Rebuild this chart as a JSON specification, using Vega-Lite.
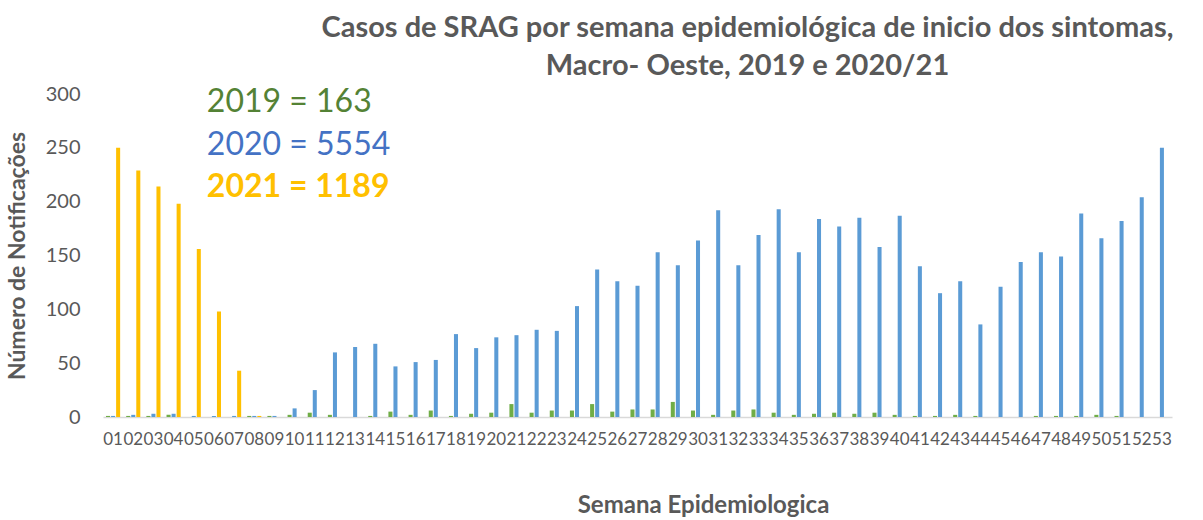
{
  "$schema": "https://vega.github.io/schema/vega-lite/v6.json",
  "autosize": "none",
  "width": 1069,
  "height": 323,
  "padding": {"left": 103, "top": 94, "right": 31, "bottom": 103},
  "background": "white",
  "config": {
    "view": {"stroke": null},
    "font": "Lato"
  },
  "title": {
    "text": ["Casos de SRAG por semana epidemiológica de inicio dos sintomas,", "Macro- Oeste, 2019 e 2020/21"],
    "font": "Lato",
    "fontSize": 29,
    "fontWeight": "bold",
    "color": "#595959",
    "anchor": "middle",
    "dx": 110,
    "offset": 3,
    "lineHeight": 38
  },
  "datasets": {
    "notes": [
      {"year": "2019", "label": "2019 = 163", "week": "06", "pos": 293},
      {"year": "2020", "label": "2020 = 5554", "week": "06", "pos": 252.5},
      {"year": "2021", "label": "2021 = 1189", "week": "06", "pos": 213.5}
    ]
  },
  "data": {
    "values": [
      {"week":"01","year":"2019","n":1},{"week":"01","year":"2020","n":1},{"week":"01","year":"2021","n":250},
      {"week":"02","year":"2019","n":1},{"week":"02","year":"2020","n":2},{"week":"02","year":"2021","n":229},
      {"week":"03","year":"2019","n":1},{"week":"03","year":"2020","n":3},{"week":"03","year":"2021","n":214},
      {"week":"04","year":"2019","n":2},{"week":"04","year":"2020","n":3},{"week":"04","year":"2021","n":198},
      {"week":"05","year":"2019","n":0},{"week":"05","year":"2020","n":1},{"week":"05","year":"2021","n":156},
      {"week":"06","year":"2019","n":0},{"week":"06","year":"2020","n":1},{"week":"06","year":"2021","n":98},
      {"week":"07","year":"2019","n":0},{"week":"07","year":"2020","n":1},{"week":"07","year":"2021","n":43},
      {"week":"08","year":"2019","n":1},{"week":"08","year":"2020","n":1},{"week":"08","year":"2021","n":1},
      {"week":"09","year":"2019","n":1},{"week":"09","year":"2020","n":1},
      {"week":"10","year":"2019","n":2},{"week":"10","year":"2020","n":8},
      {"week":"11","year":"2019","n":4},{"week":"11","year":"2020","n":25},
      {"week":"12","year":"2019","n":2},{"week":"12","year":"2020","n":60},
      {"week":"13","year":"2019","n":0},{"week":"13","year":"2020","n":65},
      {"week":"14","year":"2019","n":1},{"week":"14","year":"2020","n":68},
      {"week":"15","year":"2019","n":5},{"week":"15","year":"2020","n":47},
      {"week":"16","year":"2019","n":2},{"week":"16","year":"2020","n":51},
      {"week":"17","year":"2019","n":6},{"week":"17","year":"2020","n":53},
      {"week":"18","year":"2019","n":1},{"week":"18","year":"2020","n":77},
      {"week":"19","year":"2019","n":3},{"week":"19","year":"2020","n":64},
      {"week":"20","year":"2019","n":4},{"week":"20","year":"2020","n":74},
      {"week":"21","year":"2019","n":12},{"week":"21","year":"2020","n":76},
      {"week":"22","year":"2019","n":4},{"week":"22","year":"2020","n":81},
      {"week":"23","year":"2019","n":6},{"week":"23","year":"2020","n":80},
      {"week":"24","year":"2019","n":6},{"week":"24","year":"2020","n":103},
      {"week":"25","year":"2019","n":12},{"week":"25","year":"2020","n":137},
      {"week":"26","year":"2019","n":5},{"week":"26","year":"2020","n":126},
      {"week":"27","year":"2019","n":7},{"week":"27","year":"2020","n":122},
      {"week":"28","year":"2019","n":7},{"week":"28","year":"2020","n":153},
      {"week":"29","year":"2019","n":14},{"week":"29","year":"2020","n":141},
      {"week":"30","year":"2019","n":6},{"week":"30","year":"2020","n":164},
      {"week":"31","year":"2019","n":2},{"week":"31","year":"2020","n":192},
      {"week":"32","year":"2019","n":6},{"week":"32","year":"2020","n":141},
      {"week":"33","year":"2019","n":7},{"week":"33","year":"2020","n":169},
      {"week":"34","year":"2019","n":4},{"week":"34","year":"2020","n":193},
      {"week":"35","year":"2019","n":2},{"week":"35","year":"2020","n":153},
      {"week":"36","year":"2019","n":3},{"week":"36","year":"2020","n":184},
      {"week":"37","year":"2019","n":4},{"week":"37","year":"2020","n":177},
      {"week":"38","year":"2019","n":3},{"week":"38","year":"2020","n":185},
      {"week":"39","year":"2019","n":4},{"week":"39","year":"2020","n":158},
      {"week":"40","year":"2019","n":2},{"week":"40","year":"2020","n":187},
      {"week":"41","year":"2019","n":1},{"week":"41","year":"2020","n":140},
      {"week":"42","year":"2019","n":1},{"week":"42","year":"2020","n":115},
      {"week":"43","year":"2019","n":2},{"week":"43","year":"2020","n":126},
      {"week":"44","year":"2019","n":1},{"week":"44","year":"2020","n":86},
      {"week":"45","year":"2019","n":0},{"week":"45","year":"2020","n":121},
      {"week":"46","year":"2019","n":0},{"week":"46","year":"2020","n":144},
      {"week":"47","year":"2019","n":1},{"week":"47","year":"2020","n":153},
      {"week":"48","year":"2019","n":1},{"week":"48","year":"2020","n":149},
      {"week":"49","year":"2019","n":1},{"week":"49","year":"2020","n":189},
      {"week":"50","year":"2019","n":2},{"week":"50","year":"2020","n":166},
      {"week":"51","year":"2019","n":1},{"week":"51","year":"2020","n":182},
      {"week":"52","year":"2019","n":0},{"week":"52","year":"2020","n":204},
      {"week":"53","year":"2019","n":0},{"week":"53","year":"2020","n":250}
    ]
  },
  "layer": [
    {
      "mark": {"type": "bar"},
      "encoding": {
        "x": {
          "field": "week", "type": "ordinal", "sort": null,
          "scale": {"paddingInner": 0.3, "paddingOuter": 0.15},
          "axis": {
            "title": "Semana Epidemiologica",
            "titleFont": "Lato", "titleFontSize": 24, "titleFontWeight": "bold", "titleColor": "#595959",
            "titleX": 600, "titleY": 88, "titleBaseline": "middle",
            "labelAngle": 0, "labelFont": "Lato", "labelFontSize": 17, "labelColor": "#595959",
            "labelPadding": 14, "ticks": false, "domainColor": "#D9D9D9", "domainWidth": 1.5,
            "grid": false, "labelOverlap": false
          }
        },
        "xOffset": {
          "field": "year", "type": "nominal",
          "scale": {"domain": ["2019", "2020", "2021"], "paddingInner": 0.2, "paddingOuter": 0}
        },
        "y": {
          "field": "n", "type": "quantitative",
          "scale": {"domain": [0, 300], "nice": false},
          "axis": {
            "title": "Número de Notificações",
            "titleFont": "Lato", "titleFontSize": 23, "titleFontWeight": "bold", "titleColor": "#595959",
            "titlePadding": 16,
            "values": [0, 50, 100, 150, 200, 250, 300],
            "labelFont": "Lato", "labelFontSize": 20, "labelColor": "#595959",
            "labelPadding": 23, "ticks": false, "domain": false, "grid": false
          }
        },
        "color": {
          "field": "year", "type": "nominal",
          "scale": {"domain": ["2019", "2020", "2021"], "range": ["#70AD47", "#5B9BD5", "#FFC000"]},
          "legend": null
        }
      }
    },
    {
      "data": {"name": "notes"},
      "transform": [{"filter": "datum.year == '2019'"}],
      "mark": {"type": "text", "align": "left", "baseline": "middle", "font": "Lato", "fontSize": 32, "color": "#548235"},
      "encoding": {
        "x": {"field": "week", "type": "ordinal", "bandPosition": 0},
        "y": {"field": "pos", "type": "quantitative"},
        "text": {"field": "label"}
      }
    },
    {
      "data": {"name": "notes"},
      "transform": [{"filter": "datum.year == '2020'"}],
      "mark": {"type": "text", "align": "left", "baseline": "middle", "font": "Lato", "fontSize": 32, "color": "#4472C4"},
      "encoding": {
        "x": {"field": "week", "type": "ordinal", "bandPosition": 0},
        "y": {"field": "pos", "type": "quantitative"},
        "text": {"field": "label"}
      }
    },
    {
      "data": {"name": "notes"},
      "transform": [{"filter": "datum.year == '2021'"}],
      "mark": {"type": "text", "align": "left", "baseline": "middle", "font": "Lato", "fontSize": 32, "fontWeight": "bold", "color": "#FFC000"},
      "encoding": {
        "x": {"field": "week", "type": "ordinal", "bandPosition": 0},
        "y": {"field": "pos", "type": "quantitative"},
        "text": {"field": "label"}
      }
    }
  ]
}
